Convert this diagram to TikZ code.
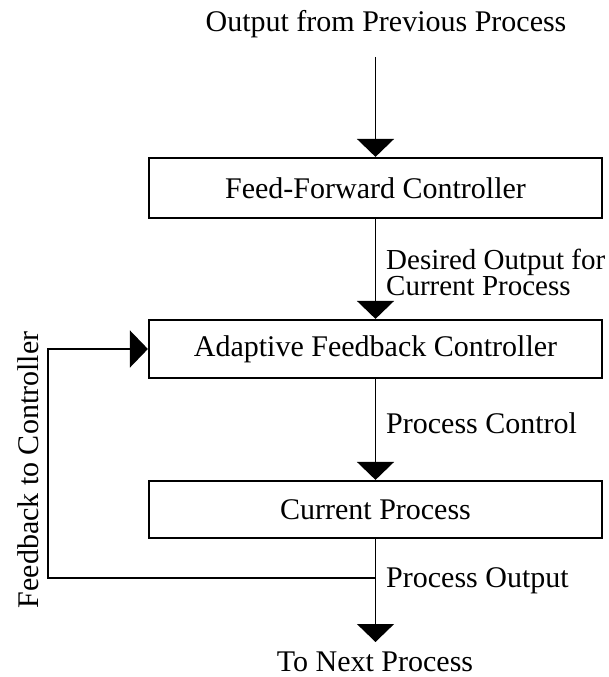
\documentclass[tikz,border=0pt]{standalone}
\usepackage{fontspec}
\setmainfont{Liberation Serif}
\usetikzlibrary{arrows.meta}
\tikzset{
  box/.style={draw, line width=2.2pt, minimum width=453pt, inner sep=0pt},
  lbl/.style={inner sep=0pt, font=\fontsize{30}{21}\selectfont},
  flow/.style={line width=1.4pt, -{Triangle[length=18pt, width=37pt]}},
}
\begin{document}
\begin{tikzpicture}[x=1pt, y=-1pt]
\useasboundingbox (0,0) rectangle (608,677);
% texts outside boxes
\node[lbl, anchor=base] (top) at (386,32) {Output from Previous Process};
\node[lbl, anchor=base] (bot) at (375,671) {To Next Process};
% boxes
\node[box, lbl, minimum height=60pt] (ff)  at (375.5,188)   {Feed-Forward Controller};
\node[box, lbl, minimum height=58pt] (ada) at (375.5,349)   {Adaptive Feedback Controller};
\node[box, lbl, minimum height=57pt] (cur) at (375.5,509.5) {Current Process};
% coordinates
\coordinate (in)  at (375.5,57);
\coordinate (out) at (375.5,642);
\coordinate (j)   at (375.5,578);
\coordinate (fb)  at (48,578);
% connectors
\draw[flow] (in) -- (ff.north);
\draw[flow] (ff.south) -- (ada.north);
\draw[flow] (ada.south) -- (cur.north);
\draw[flow] (cur.south) -- (out);
\draw[flow] (j) -- (fb) |- (ada.west);
% connector labels
\node[lbl, anchor=north west, align=left, font=\fontsize{29}{21}\selectfont] (l1) at (386,249) {Desired Output for\\Current Process};
\node[lbl, anchor=base west] (l2) at (386,433) {Process Control};
\node[lbl, anchor=base west] (l3) at (386,587) {Process Output};
\node[lbl, anchor=base, rotate=90] (l4) at (38,470) {Feedback to Controller};
\end{tikzpicture}
\end{document}
